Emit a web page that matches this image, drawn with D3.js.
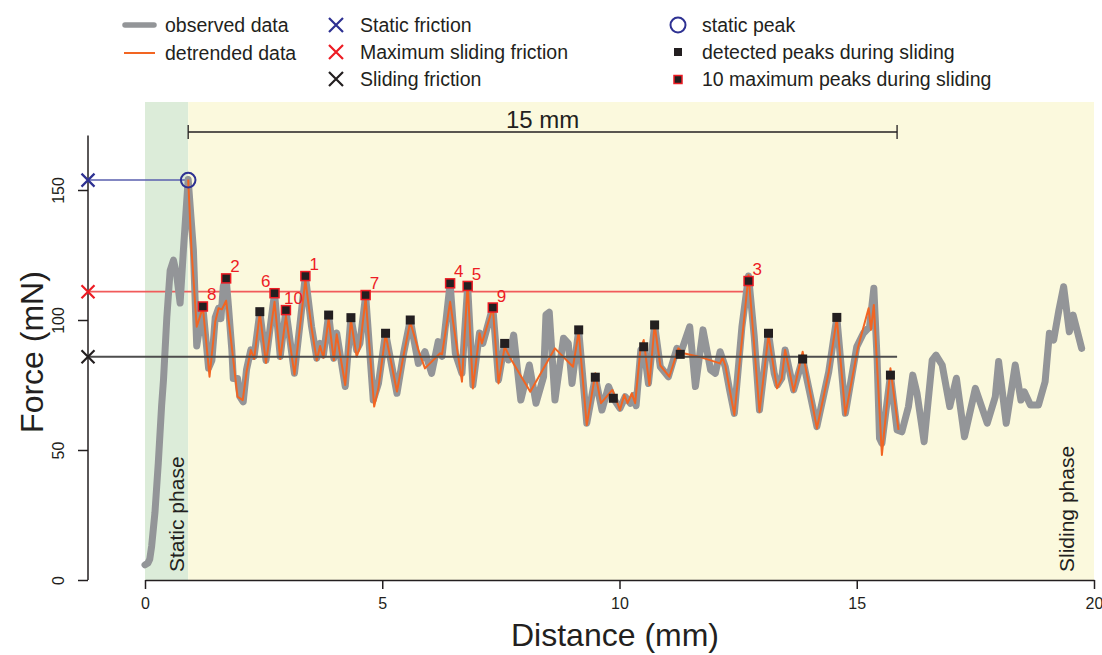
<!DOCTYPE html>
<html>
<head>
<meta charset="utf-8">
<script src="https://cdn.jsdelivr.net/npm/d3@7"></script>
<style>
  body { margin: 0; background: #fff; }
  text { font-family: "Liberation Sans", Arial, sans-serif; fill: #231f20; }
</style>
</head>
<body>
<div id="chart"></div>
<script>
// observed force curve [distance mm, force mN]
const observed = [
  [0, 5.8], [0.06, 6.5], [0.1, 8], [0.14, 13], [0.21, 26], [0.28, 45], [0.35, 67], [0.39, 77],
  [0.46, 101], [0.53, 119], [0.6, 123], [0.67, 117], [0.74, 106.5], [0.81, 127], [0.91, 154],
  [1.02, 127], [1.09, 90], [1.22, 105], [1.34, 81.5], [1.41, 84.5], [1.48, 101], [1.55, 104.5],
  [1.6, 100.5], [1.65, 113], [1.71, 116], [1.76, 105], [1.83, 88.5], [1.86, 77.5], [1.95, 77.5],
  [2.0, 70.5], [2.07, 68.5], [2.14, 81], [2.23, 88.5], [2.3, 86], [2.42, 103], [2.55, 84.5],
  [2.73, 110.3], [2.85, 86], [2.97, 103.8], [3.15, 79.5], [3.38, 117], [3.51, 97.5], [3.62, 85.3],
  [3.69, 91], [3.76, 86.5], [3.87, 102], [3.98, 85.3], [4.04, 95], [4.22, 74.4], [4.34, 101],
  [4.46, 88.5], [4.53, 91], [4.65, 109.6], [4.81, 69.2], [4.92, 75.6], [5.07, 95], [5.31, 71.8],
  [5.45, 87.2], [5.59, 100], [5.76, 83.3], [5.9, 87.8], [6.04, 79.5], [6.18, 91.7], [6.26, 86],
  [6.43, 114.1], [6.54, 87.2], [6.68, 79.5], [6.8, 113.1], [6.91, 75], [7.05, 95], [7.12, 91],
  [7.33, 105], [7.45, 77], [7.58, 91], [7.66, 84.6], [7.77, 94.2], [7.92, 69.2], [8.1, 82.7],
  [8.24, 68], [8.4, 78.2], [8.45, 102], [8.52, 103], [8.64, 69.2], [8.82, 93], [8.92, 91],
  [9.0, 75.6], [9.14, 96.2], [9.31, 60.3], [9.49, 78], [9.63, 65.4], [9.77, 74.4], [9.87, 69.9],
  [10.01, 66], [10.12, 70.5], [10.23, 68], [10.3, 71], [10.35, 67], [10.45, 88.5], [10.51, 89.7],
  [10.61, 75.6], [10.74, 98.1], [10.86, 82], [11.03, 78.2], [11.21, 89.1], [11.28, 86.8],
  [11.48, 97.4], [11.6, 74.4], [11.76, 96.2], [11.92, 80.8], [12.02, 79.5], [12.12, 87.8],
  [12.23, 82], [12.32, 73.1], [12.42, 64.1], [12.58, 97.4], [12.72, 116.9], [12.84, 93.6],
  [12.95, 65.4], [13.14, 94.9], [13.26, 79.5], [13.33, 75], [13.42, 77.6], [13.49, 88.5],
  [13.67, 73.1], [13.86, 85], [14.16, 59], [14.41, 80.1], [14.58, 101], [14.76, 64.1], [15.0, 89.7],
  [15.14, 94.9], [15.27, 97.4], [15.36, 112.2], [15.43, 84.6], [15.48, 54.5], [15.53, 52.6],
  [15.71, 78.8], [15.85, 57.7], [15.95, 57], [16.09, 66.7], [16.18, 78.8], [16.27, 71.8],
  [16.42, 53.2], [16.59, 84.6], [16.67, 86.5], [16.8, 82.7], [16.96, 66.7], [17.1, 77.6],
  [17.27, 55.1], [17.5, 73.7], [17.75, 60.3], [17.92, 70.5], [17.99, 84], [18.15, 60.3],
  [18.34, 82.7], [18.46, 69.2], [18.53, 72.4], [18.66, 67.3], [18.83, 67.3], [18.97, 76.3],
  [19.06, 94.9], [19.15, 92.3], [19.26, 103.8], [19.36, 112.8], [19.48, 95.5], [19.56, 101.9],
  [19.65, 95.5], [19.74, 89.1]
];

// detrended curve (sliding window only)
const detrended = [
  [0.91, 154], [0.98, 127], [1.09, 97.4], [1.22, 104.9], [1.36, 78.2], [1.48, 99.3], [1.55, 104.5],
  [1.62, 104.1], [1.71, 107.4], [1.78, 97.4], [1.95, 70.5], [2.06, 69.2], [2.14, 80], [2.23, 88.5],
  [2.3, 85], [2.42, 102.6], [2.55, 83.5], [2.73, 107], [2.85, 85], [2.97, 101.5], [3.15, 79],
  [3.38, 115.4], [3.51, 97], [3.62, 84.5], [3.69, 90], [3.76, 85.5], [3.87, 100.5], [3.98, 84.5],
  [4.04, 94.5], [4.22, 75], [4.34, 100], [4.46, 85.9], [4.53, 89.5], [4.65, 108.5], [4.83, 66.7],
  [4.92, 74], [5.07, 94.5], [5.31, 72.5], [5.45, 86.5], [5.59, 99.3], [5.76, 88.5], [5.9, 81.4],
  [6.22, 87.2], [6.26, 86.8], [6.43, 107], [6.68, 76.3], [6.8, 114.1], [6.91, 73.7], [7.05, 94.9],
  [7.1, 91], [7.33, 104.9], [7.45, 75.6], [7.58, 89.7], [7.7, 85.3], [8.12, 72.4], [8.64, 89.1],
  [9.02, 82], [9.14, 95.5], [9.31, 59.6], [9.49, 79.5], [9.61, 68], [9.85, 73.1], [10.01, 65.4],
  [10.1, 71.2], [10.17, 68], [10.26, 71.8], [10.33, 68], [10.44, 88.5], [10.51, 92.3], [10.63, 75],
  [10.74, 98.1], [10.86, 82.5], [11.05, 78.2], [11.24, 89.1], [11.35, 87.2], [11.67, 85.9],
  [12.12, 83.3], [12.17, 85.5], [12.23, 82.5], [12.42, 63.5], [12.72, 117.3], [12.95, 64.7],
  [13.14, 94.2], [13.32, 73.7], [13.42, 77.5], [13.49, 88.5], [13.67, 72.5], [13.86, 87.8],
  [14.16, 58.3], [14.41, 80], [14.58, 100.6], [14.76, 63.5], [15.02, 89], [15.25, 104.5],
  [15.3, 96.2], [15.36, 105.8], [15.53, 48.1], [15.71, 81.4], [15.88, 57.7]
];

// detected peaks during sliding
const detectedPeaks = [
  [2.42, 103.2], [3.87, 101.9], [4.34, 100.9], [5.07, 94.9], [5.59, 100], [7.58, 91],
  [9.14, 96.2], [9.49, 78], [9.87, 69.9], [10.51, 89.7], [10.74, 98.1], [11.28, 86.8],
  [13.14, 94.9], [13.86, 85], [14.58, 101], [15.71, 78.8]
];

// 10 maximum peaks
const maxPeakX = [3.38, 1.71, 12.72, 6.43, 6.8, 2.73, 4.65, 1.22, 7.33, 2.97];
const maxPeakY = [116.9, 116.0, 115.0, 114.1, 113.1, 110.3, 109.6, 105.2, 104.8, 103.8];
const maxPeakRank = [1, 2, 3, 4, 5, 6, 7, 8, 9, 10];

const staticPeak = [0.91, 153.8];
const maxSlidingFriction = 110.9;
const slidingFriction = 85.9;
const slidingEnd = 15.85;
const windowLabel = "15 mm";

const xTicks = [0, 5, 10, 15, 20];
const yTicks = [0, 50, 100, 150];

const W = 1102, H = 655;
const svg = d3.select("#chart").append("svg").attr("width", W).attr("height", H);

const x = d3.scaleLinear().domain([0, 20]).range([145, 1094]);
const y = d3.scaleLinear().domain([0, 150]).range([580, 190]);

// fonds des phases
const bgTop = 102;
svg.append("rect")
  .attr("x", x(0)).attr("y", bgTop)
  .attr("width", x(staticPeak[0]) - x(0)).attr("height", y(0) - bgTop)
  .attr("fill", "#dcecd9");
svg.append("rect")
  .attr("x", x(staticPeak[0])).attr("y", bgTop)
  .attr("width", x(20) - x(staticPeak[0])).attr("height", y(0) - bgTop)
  .attr("fill", "#fbf9dd");

svg.append("text")
  .attr("transform", `translate(184,572) rotate(-90)`)
  .style("font-size", "21px")
  .text("Static phase");
svg.append("text")
  .attr("transform", `translate(1074,572) rotate(-90)`)
  .style("font-size", "21px")
  .text("Sliding phase");

// axes
const axisX = svg.append("g")
  .attr("transform", `translate(0,${y(0)})`)
  .call(d3.axisBottom(x).tickValues(xTicks).tickSize(9).tickSizeOuter(0).tickPadding(9));
axisX.selectAll("text").style("font-size", "16px").style("font-family", "Liberation Sans, Arial, sans-serif");

const axisY = svg.append("g")
  .attr("transform", `translate(88,0)`)
  .call(d3.axisLeft(y).tickValues(yTicks).tickSize(10).tickSizeOuter(0));
axisY.select(".domain").remove();
axisY.append("line")
  .attr("x1", 0).attr("x2", 0)
  .attr("y1", y(0)).attr("y2", y(171))
  .attr("stroke", "#231f20").attr("stroke-width", 1.5);
axisY.selectAll(".tick text")
  .attr("x", 0).attr("y", -24).attr("dy", 0)
  .attr("text-anchor", "middle")
  .attr("transform", "rotate(-90)")
  .style("font-size", "16px")
  .style("font-family", "Liberation Sans, Arial, sans-serif");

svg.selectAll(".domain, .tick line").attr("stroke", "#231f20").attr("stroke-width", 1.5);
svg.selectAll(".tick text").attr("fill", "#231f20");

svg.append("text")
  .attr("transform", `translate(43,352) rotate(-90)`)
  .attr("text-anchor", "middle")
  .style("font-size", "32px")
  .text("Force (mN)");
svg.append("text")
  .attr("x", 615).attr("y", 646)
  .attr("text-anchor", "middle")
  .style("font-size", "32px")
  .text("Distance (mm)");

// lignes de référence
svg.append("line")
  .attr("x1", 88).attr("x2", x(staticPeak[0]))
  .attr("y1", y(staticPeak[1])).attr("y2", y(staticPeak[1]))
  .attr("stroke", "#5a5fae").attr("stroke-width", 1.5);
svg.append("line")
  .attr("x1", 88).attr("x2", x(d3.max(maxPeakX)))
  .attr("y1", y(maxSlidingFriction)).attr("y2", y(maxSlidingFriction))
  .attr("stroke", "#f15b5b").attr("stroke-width", 1.8);

// courbes
const line = d3.line().x(d => x(d[0])).y(d => y(d[1]));
svg.append("path")
  .datum(observed)
  .attr("d", line)
  .attr("fill", "none")
  .attr("stroke", "#939598")
  .attr("stroke-width", 7)
  .attr("stroke-linejoin", "round")
  .attr("stroke-linecap", "round");
svg.append("path")
  .datum(detrended)
  .attr("d", line)
  .attr("fill", "none")
  .attr("stroke", "#f26522")
  .attr("stroke-width", 2)
  .attr("stroke-linejoin", "round");

svg.append("line")
  .attr("x1", 88).attr("x2", x(slidingEnd))
  .attr("y1", y(slidingFriction)).attr("y2", y(slidingFriction))
  .attr("stroke", "#4d4d4d").attr("stroke-width", 2);

// marqueurs X sur l'axe
function cross(g, cx, cy, color, s) {
  g.append("path")
    .attr("d", `M${cx - s},${cy - s}L${cx + s},${cy + s}M${cx - s},${cy + s}L${cx + s},${cy - s}`)
    .attr("stroke", color).attr("stroke-width", 2.2).attr("fill", "none");
}
cross(svg, 88, y(staticPeak[1]), "#2e3192", 6.5);
cross(svg, 88, y(maxSlidingFriction), "#ed1c24", 6.5);
cross(svg, 88, y(slidingFriction), "#231f20", 6.5);

// pics
svg.selectAll(".peak")
  .data(detectedPeaks)
  .enter().append("rect")
  .attr("class", "peak")
  .attr("x", d => x(d[0]) - 4.5).attr("y", d => y(d[1]) - 4.5)
  .attr("width", 9).attr("height", 9)
  .attr("fill", "#231f20");

const maxPeaks = maxPeakX.map((v, i) => ({ x: v, y: maxPeakY[i], rank: maxPeakRank[i] }));
svg.selectAll(".maxpeak")
  .data(maxPeaks)
  .enter().append("rect")
  .attr("class", "maxpeak")
  .attr("x", d => x(d.x) - 4.5).attr("y", d => y(d.y) - 4.5)
  .attr("width", 9).attr("height", 9)
  .attr("fill", "#231f20")
  .attr("stroke", "#ed1c24").attr("stroke-width", 1.5);

const labelLeft = { 6: true };
svg.selectAll(".ranklabel")
  .data(maxPeaks)
  .enter().append("text")
  .attr("class", "ranklabel")
  .attr("x", d => labelLeft[d.rank] ? x(d.x) - 4 : x(d.x) + (d.rank === 10 ? -2 : 4))
  .attr("y", d => y(d.y) - 6)
  .attr("text-anchor", d => labelLeft[d.rank] ? "end" : "start")
  .style("font-size", "17px")
  .style("fill", "#ed1c24")
  .text(d => d.rank);

svg.append("circle")
  .attr("cx", x(staticPeak[0])).attr("cy", y(staticPeak[1]))
  .attr("r", 7.3)
  .attr("fill", "none").attr("stroke", "#2e3192").attr("stroke-width", 2);

// fenêtre de 15 mm
const by = 132;
const bracket = svg.append("g").attr("stroke", "#231f20").attr("stroke-width", 1.3);
bracket.append("line").attr("x1", x(staticPeak[0])).attr("x2", x(slidingEnd)).attr("y1", by).attr("y2", by);
bracket.append("line").attr("x1", x(staticPeak[0])).attr("x2", x(staticPeak[0])).attr("y1", by - 7).attr("y2", by + 7);
bracket.append("line").attr("x1", x(slidingEnd)).attr("x2", x(slidingEnd)).attr("y1", by - 7).attr("y2", by + 7);
svg.append("text")
  .attr("x", (x(staticPeak[0]) + x(slidingEnd)) / 2).attr("y", 128)
  .attr("text-anchor", "middle")
  .style("font-size", "24px")
  .text(windowLabel);

// légende
const lg = svg.append("g").style("font-size", "19.5px");
lg.append("line").attr("x1", 125).attr("x2", 154).attr("y1", 25).attr("y2", 25)
  .attr("stroke", "#939598").attr("stroke-width", 5.5).attr("stroke-linecap", "round");
lg.append("text").attr("x", 165).attr("y", 32).text("observed data");
lg.append("line").attr("x1", 124).attr("x2", 155).attr("y1", 53).attr("y2", 53)
  .attr("stroke", "#f26522").attr("stroke-width", 2);
lg.append("text").attr("x", 165).attr("y", 60).text("detrended data");

cross(lg, 336, 25, "#2e3192", 7);
lg.append("text").attr("x", 360).attr("y", 32).text("Static friction");
cross(lg, 336, 52, "#ed1c24", 7);
lg.append("text").attr("x", 360).attr("y", 59).text("Maximum sliding friction");
cross(lg, 336, 79, "#231f20", 7);
lg.append("text").attr("x", 360).attr("y", 86).text("Sliding friction");

lg.append("circle").attr("cx", 678).attr("cy", 25).attr("r", 7.5)
  .attr("fill", "none").attr("stroke", "#2e3192").attr("stroke-width", 2);
lg.append("text").attr("x", 702).attr("y", 32).text("static peak");
lg.append("rect").attr("x", 674).attr("y", 48).attr("width", 8).attr("height", 8).attr("fill", "#231f20");
lg.append("text").attr("x", 702).attr("y", 59).text("detected peaks during sliding");
lg.append("rect").attr("x", 674).attr("y", 75.5).attr("width", 8).attr("height", 8)
  .attr("fill", "#231f20").attr("stroke", "#ed1c24").attr("stroke-width", 1.5);
lg.append("text").attr("x", 702).attr("y", 86).text("10 maximum peaks during sliding");
</script>
</body>
</html>
